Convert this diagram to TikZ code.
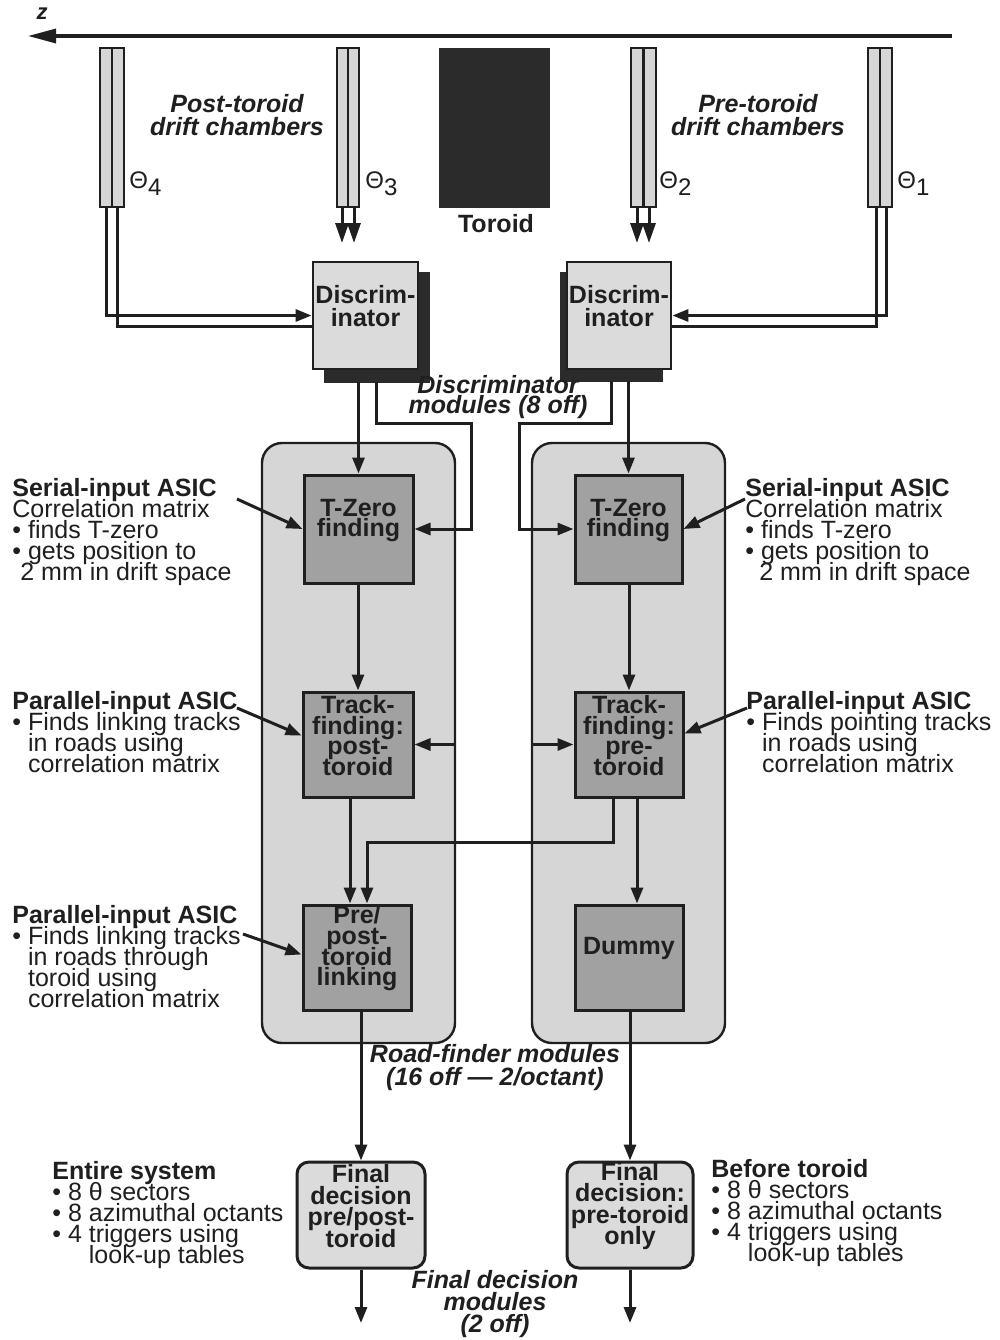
\documentclass[tikz,border=0pt]{standalone}
\usepackage{fontspec}
\setmainfont{Liberation Sans}
\usetikzlibrary{arrows.meta,calc,fit}
\definecolor{modfill}{gray}{0.84}
\definecolor{unitfill}{gray}{0.63}
\definecolor{discfill}{gray}{0.86}
\definecolor{darkfill}{gray}{0.17}
\definecolor{chfill}{gray}{0.84}
\definecolor{ink}{gray}{0.12}
\newcommand\tightls{\lineskiplimit=-100pt\lineskip=0pt}
\tikzset{
  conn/.style={line width=1.5pt, draw=ink},
  arr/.style={conn, -{Triangle[length=8pt,width=6pt]}},
  bigarr/.style={conn, -{Triangle[length=10pt,width=6.5pt]}},
  axis/.style={line width=1.6pt, draw=ink, -{Triangle[length=14pt,width=7pt]}},
  txt/.style={inner sep=0pt, align=left, text=ink, font=\fontsize{12.5}{10.5}\selectfont\tightls},
  ital/.style={inner sep=0pt, align=center, text=ink, font=\fontsize{12.5}{11.5}\selectfont\bfseries\itshape\tightls},
  boldlab/.style={inner sep=0pt, text=ink, font=\fontsize{12.5}{11}\selectfont\bfseries},
  thlab/.style={inner sep=0pt, anchor=west, text=ink, font=\fontsize{12}{12}\selectfont},
  chamber/.style={draw=ink, line width=1.2pt, fill=chfill, inner sep=0pt},
  chline/.style={draw=ink, line width=1.2pt},
  toroidbox/.style={fill=darkfill, draw=darkfill, inner sep=0pt},
  module/.style={draw=ink, line width=1.2pt, fill=modfill, rounded corners=10pt, inner sep=0pt},
  shadowbox/.style={fill=darkfill, draw=darkfill, inner sep=0pt},
  disc/.style={draw=ink, line width=1.4pt, fill=discfill, inner sep=0pt, align=center, text=ink, font=\fontsize{12.5}{11.5}\selectfont\bfseries\tightls},
  unit/.style={draw=ink, line width=1.5pt, fill=unitfill, inner sep=0pt, align=center, text=ink, font=\fontsize{12.5}{10.3}\selectfont\bfseries\tightls},
  final/.style={draw=ink, line width=1.5pt, fill=discfill, rounded corners=6pt, inner sep=0pt, align=center, text=ink, font=\fontsize{12.5}{10.8}\selectfont\bfseries\tightls}
}
\begin{document}
\begin{tikzpicture}[x=0.5pt,y=-0.5pt]
\useasboundingbox[fill=white] (0,0) rectangle (1000,1340);
% z axis
\coordinate (zR) at (952,36);
\coordinate (zL) at (28,36);
\draw[axis] (zR) -- (zL);
\node[inner sep=0pt, text=ink, font=\fontsize{11}{11}\selectfont\bfseries\itshape] (zlab) at (42,14) {z};

% chambers
\node[chamber, fit={(100,48)(124,207)}] (ch4) {};
\node[chamber, fit={(337,48)(359,207)}] (ch3) {};
\node[chamber, fit={(631,48)(656,207)}] (ch2) {};
\node[chamber, fit={(868,48)(892,207)}] (ch1) {};
\foreach \c in {ch4,ch3,ch2,ch1} \draw[chline] (\c.north) -- (\c.south);

\node[thlab] (th4) at (129,184) {Θ\raisebox{-3.5pt}{4}};
\node[thlab] (th3) at (365,184) {Θ\raisebox{-3.5pt}{3}};
\node[thlab] (th2) at (659,184) {Θ\raisebox{-3.5pt}{2}};
\node[thlab] (th1) at (897,184) {Θ\raisebox{-3.5pt}{1}};

% toroid
\node[toroidbox, fit={(439,48)(549,207)}] (tor) {};
\node[boldlab] (torlab) at (496,224) {Toroid};

\node[ital, anchor=north] (postlab) at (237,94) {Post-toroid\\drift chambers};
\node[ital, anchor=north] (prelab) at (758,94) {Pre-toroid\\drift chambers};

% modules
\node[module, fit={(262,443)(455,1043)}] (modL) {};
\node[module, fit={(532,443)(725,1043)}] (modR) {};

% discriminators
\node[shadowbox, fit={(324,272)(429,382)}] (shL) {};
\node[disc, fit={(313,262)(418,369)}] (discL) {Discrim-\\inator\\[14pt]};
\node[shadowbox, fit={(560,272)(662,381)}] (shR) {};
\node[disc, fit={(567,262)(671,369)}] (discR) {Discrim-\\inator\\[14pt]};

\node[ital, font=\fontsize{12.5}{9.8}\selectfont\bfseries\itshape\tightls] (disclab) at (498,397) {Discriminator\\modules (8 off)};

% road-finder units
\node[unit, fit={(304,475)(413,583)}] (tzL) {T-Zero\\finding};
\node[unit, fit={(575,475)(682,583)}] (tzR) {T-Zero\\finding};
\node[unit, fit={(303,692)(413,797)}] (tfL) {Track-\\finding:\\post-\\toroid};
\node[unit, fit={(575,692)(683,797)}] (tfR) {Track-\\finding:\\pre-\\toroid};
\node[unit, fit={(303,905)(411,1010)}] (lkL) {Pre/\\post-\\toroid\\linking};
\node[unit, fit={(575,905)(683,1010)}] (dmR) {Dummy};

\node[ital] (roadlab) at (495,1068) {Road-finder modules\\(16 off — 2/octant)};

% final decision
\node[final, fit={(297,1162)(425,1268)}] (fdL) {Final\\decision\\pre/post-\\toroid};
\node[final, fit={(567,1162)(693,1268)}] (fdR) {Final\\decision:\\pre-toroid\\only};

\node[ital, font=\fontsize{12.5}{11}\selectfont\bfseries\itshape\tightls] (finlab) at (495,1304) {Final decision\\modules\\(2 off)};

% chamber connections
\draw[arr] ($(ch4.south)+(-6,0)$) |- (discL.west);
\draw[conn] ($(ch4.south)+(5,0)$) |- ($(discL.west)+(0,11)$);
\draw[arr] ($(ch1.south)+(6,0)$) |- (discR.east);
\draw[conn] ($(ch1.south)+(-4,0)$) |- ($(discR.east)+(0,11)$);
\coordinate (t3a) at (342,243);
\coordinate (t3b) at (354,243);
\coordinate (t2a) at (637,243);
\coordinate (t2b) at (649,243);
\draw[bigarr] (ch3.south -| t3a) -- (t3a);
\draw[bigarr] (ch3.south -| t3b) -- (t3b);
\draw[bigarr] (ch2.south -| t2a) -- (t2a);
\draw[bigarr] (ch2.south -| t2b) -- (t2b);

% discriminator outputs
\draw[arr] (shL.south -| tzL.north) -- (tzL.north);
\coordinate (dl1) at (471,423);
\draw[arr] (shL.south) |- (dl1) |- (tzL.east);
\draw[arr] (shR.south -| tzR.north) -- (tzR.north);
\coordinate (dr1) at (519,423);
\draw[arr] (shR.south) |- (dr1) |- (tzR.west);

% internal flow
\draw[arr] (tfL.north |- tzL.south) -- (tfL.north);
\draw[arr] (tfR.north |- tzR.south) -- (tfR.north);
\draw[arr] (modL.east |- tfL.east) -- (tfL.east);
\draw[arr] (modR.west |- tfR.west) -- (tfR.west);
\draw[arr] ($(tfL.south)+(-8,0)$) -- ($(lkL.north)+(-7,0)$);
\coordinate (lk1) at (367,842);
\draw[arr] ($(tfR.south)+(-16,0)$) |- (lk1) -- ($(lkL.north)+(10,0)$);
\draw[arr] ($(tfR.south)+(8,0)$) -- ($(dmR.north)+(8,0)$);

% to final decisions
\draw[arr] (fdL.north |- lkL.south) -- (fdL.north);
\draw[arr] (fdR.north |- dmR.south) -- (fdR.north);
\coordinate (oL) at (361,1323);
\coordinate (oR) at (630,1323);
\draw[arr] (fdL.south) -- (oL);
\draw[arr] (fdR.south) -- (oR);

% annotations
\node[txt, anchor=north west] (serL) at (12,478) {\textbf{Serial-input ASIC}\\Correlation matrix\\• finds T-zero\\• gets position to\\\hspace*{4pt}2 mm in drift space};
\node[txt, anchor=north west] (serR) at (745,478) {\textbf{Serial-input ASIC}\\Correlation matrix\\• finds T-zero\\• gets position to\\\hspace*{7pt}2 mm in drift space};
\node[txt, anchor=north west] (parL) at (12,691) {\textbf{Parallel-input ASIC}\\• Finds linking tracks\\\phantom{• }in roads using\\\phantom{• }correlation matrix};
\node[txt, anchor=north west] (parR) at (746,691) {\textbf{Parallel-input ASIC}\\• Finds pointing tracks\\\phantom{• }in roads using\\\phantom{• }correlation matrix};
\node[txt, anchor=north west] (parL2) at (12,905) {\textbf{Parallel-input ASIC}\\• Finds linking tracks\\\phantom{• }in roads through\\\phantom{• }toroid using\\\phantom{• }correlation matrix};
\node[txt, anchor=north west] (entL) at (52,1161) {\textbf{Entire system}\\• 8 θ sectors\\• 8 azimuthal octants\\• 4 triggers using\\\phantom{• 4 }look-up tables};
\node[txt, anchor=north west] (befR) at (711,1159) {\textbf{Before toroid}\\• 8 θ sectors\\• 8 azimuthal octants\\• 4 triggers using\\\phantom{• 4 }look-up tables};

\coordinate (sA) at (237,499);
\coordinate (sB) at (745,499);
\coordinate (pA) at (237,708);
\coordinate (pB) at (747,708);
\coordinate (pC) at (243,934);
\draw[arr] (sA) -- (tzL.west);
\draw[arr] (sB) -- (tzR.east);
\draw[arr] (pA) -- ($(tfL.west)+(0,-9)$);
\draw[arr] (pB) -- ($(tfR.east)+(0,-11)$);
\draw[arr] (pC) -- ($(lkL.west)+(0,-3)$);
\end{tikzpicture}
\end{document}
